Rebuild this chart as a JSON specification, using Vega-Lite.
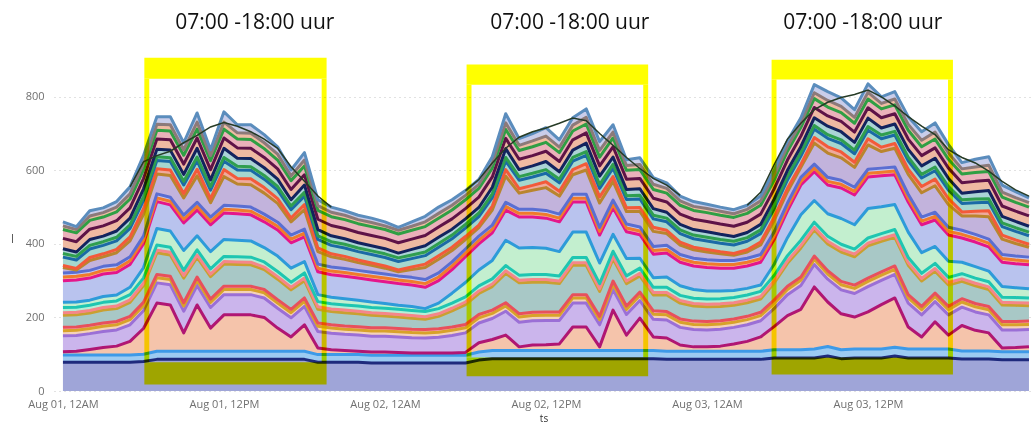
{
"$schema":"https://vega.github.io/schema/vega-lite/v6.json",
"width":979,"height":331,
"autosize":"none",
"padding":{"left":54,"top":60,"right":0,"bottom":32},
"background":"white",
"config":{"view":{"stroke":null},"font":"Open Sans"},
"datasets":{
"d":[
{"t":"08-01 00","k":"a","v":78},{"t":"08-01 00","k":"b","v":20},{"t":"08-01 00","k":"c","v":9},{"t":"08-01 00","k":"d","v":43},{"t":"08-01 00","k":"e","v":14},{"t":"08-01 00","k":"f","v":9},{"t":"08-01 00","k":"g","v":33},{"t":"08-01 00","k":"h","v":7},{"t":"08-01 00","k":"i","v":14},{"t":"08-01 00","k":"j","v":14},{"t":"08-01 00","k":"k","v":59},{"t":"08-01 00","k":"l","v":10},{"t":"08-01 00","k":"m","v":11},{"t":"08-01 00","k":"n","v":15},{"t":"08-01 00","k":"o","v":5},{"t":"08-01 00","k":"p","v":23},{"t":"08-01 00","k":"q","v":10},{"t":"08-01 00","k":"r","v":13},{"t":"08-01 00","k":"s","v":28},{"t":"08-01 00","k":"t","v":24},{"t":"08-01 00","k":"u","v":10},{"t":"08-01 00","k":"v","v":11},
{"t":"08-01 01","k":"a","v":78},{"t":"08-01 01","k":"b","v":20},{"t":"08-01 01","k":"c","v":10},{"t":"08-01 01","k":"d","v":43},{"t":"08-01 01","k":"e","v":14},{"t":"08-01 01","k":"f","v":9},{"t":"08-01 01","k":"g","v":33},{"t":"08-01 01","k":"h","v":7},{"t":"08-01 01","k":"i","v":14},{"t":"08-01 01","k":"j","v":14},{"t":"08-01 01","k":"k","v":60},{"t":"08-01 01","k":"l","v":10},{"t":"08-01 01","k":"m","v":11},{"t":"08-01 01","k":"n","v":6},{"t":"08-01 01","k":"o","v":4},{"t":"08-01 01","k":"p","v":23},{"t":"08-01 01","k":"q","v":10},{"t":"08-01 01","k":"r","v":12},{"t":"08-01 01","k":"s","v":28},{"t":"08-01 01","k":"t","v":24},{"t":"08-01 01","k":"u","v":9},{"t":"08-01 01","k":"v","v":8},
{"t":"08-01 02","k":"a","v":78},{"t":"08-01 02","k":"b","v":20},{"t":"08-01 02","k":"c","v":15},{"t":"08-01 02","k":"d","v":43},{"t":"08-01 02","k":"e","v":14},{"t":"08-01 02","k":"f","v":9},{"t":"08-01 02","k":"g","v":33},{"t":"08-01 02","k":"h","v":7},{"t":"08-01 02","k":"i","v":14},{"t":"08-01 02","k":"j","v":14},{"t":"08-01 02","k":"k","v":60},{"t":"08-01 02","k":"l","v":10},{"t":"08-01 02","k":"m","v":11},{"t":"08-01 02","k":"n","v":27},{"t":"08-01 02","k":"o","v":8},{"t":"08-01 02","k":"p","v":23},{"t":"08-01 02","k":"q","v":10},{"t":"08-01 02","k":"r","v":16},{"t":"08-01 02","k":"s","v":28},{"t":"08-01 02","k":"t","v":24},{"t":"08-01 02","k":"u","v":12},{"t":"08-01 02","k":"v","v":14},
{"t":"08-01 03","k":"a","v":78},{"t":"08-01 03","k":"b","v":20},{"t":"08-01 03","k":"c","v":20},{"t":"08-01 03","k":"d","v":44},{"t":"08-01 03","k":"e","v":14},{"t":"08-01 03","k":"f","v":9},{"t":"08-01 03","k":"g","v":35},{"t":"08-01 03","k":"h","v":7},{"t":"08-01 03","k":"i","v":14},{"t":"08-01 03","k":"j","v":16},{"t":"08-01 03","k":"k","v":61},{"t":"08-01 03","k":"l","v":10},{"t":"08-01 03","k":"m","v":11},{"t":"08-01 03","k":"n","v":26},{"t":"08-01 03","k":"o","v":8},{"t":"08-01 03","k":"p","v":23},{"t":"08-01 03","k":"q","v":10},{"t":"08-01 03","k":"r","v":15},{"t":"08-01 03","k":"s","v":28},{"t":"08-01 03","k":"t","v":24},{"t":"08-01 03","k":"u","v":12},{"t":"08-01 03","k":"v","v":13},
{"t":"08-01 04","k":"a","v":78},{"t":"08-01 04","k":"b","v":20},{"t":"08-01 04","k":"c","v":24},{"t":"08-01 04","k":"d","v":44},{"t":"08-01 04","k":"e","v":14},{"t":"08-01 04","k":"f","v":9},{"t":"08-01 04","k":"g","v":35},{"t":"08-01 04","k":"h","v":7},{"t":"08-01 04","k":"i","v":14},{"t":"08-01 04","k":"j","v":16},{"t":"08-01 04","k":"k","v":61},{"t":"08-01 04","k":"l","v":10},{"t":"08-01 04","k":"m","v":11},{"t":"08-01 04","k":"n","v":33},{"t":"08-01 04","k":"o","v":9},{"t":"08-01 04","k":"p","v":23},{"t":"08-01 04","k":"q","v":10},{"t":"08-01 04","k":"r","v":17},{"t":"08-01 04","k":"s","v":28},{"t":"08-01 04","k":"t","v":24},{"t":"08-01 04","k":"u","v":13},{"t":"08-01 04","k":"v","v":15},
{"t":"08-01 05","k":"a","v":78},{"t":"08-01 05","k":"b","v":20},{"t":"08-01 05","k":"c","v":37},{"t":"08-01 05","k":"d","v":45},{"t":"08-01 05","k":"e","v":14},{"t":"08-01 05","k":"f","v":9},{"t":"08-01 05","k":"g","v":38},{"t":"08-01 05","k":"h","v":7},{"t":"08-01 05","k":"i","v":14},{"t":"08-01 05","k":"j","v":20},{"t":"08-01 05","k":"k","v":62},{"t":"08-01 05","k":"l","v":10},{"t":"08-01 05","k":"m","v":11},{"t":"08-01 05","k":"n","v":43},{"t":"08-01 05","k":"o","v":11},{"t":"08-01 05","k":"p","v":23},{"t":"08-01 05","k":"q","v":10},{"t":"08-01 05","k":"r","v":18},{"t":"08-01 05","k":"s","v":28},{"t":"08-01 05","k":"t","v":24},{"t":"08-01 05","k":"u","v":14},{"t":"08-01 05","k":"v","v":19},
{"t":"08-01 06","k":"a","v":80},{"t":"08-01 06","k":"b","v":20},{"t":"08-01 06","k":"c","v":70},{"t":"08-01 06","k":"d","v":48},{"t":"08-01 06","k":"e","v":14},{"t":"08-01 06","k":"f","v":9},{"t":"08-01 06","k":"g","v":45},{"t":"08-01 06","k":"h","v":7},{"t":"08-01 06","k":"i","v":14},{"t":"08-01 06","k":"j","v":28},{"t":"08-01 06","k":"k","v":65},{"t":"08-01 06","k":"l","v":10},{"t":"08-01 06","k":"m","v":11},{"t":"08-01 06","k":"n","v":59},{"t":"08-01 06","k":"o","v":15},{"t":"08-01 06","k":"p","v":23},{"t":"08-01 06","k":"q","v":10},{"t":"08-01 06","k":"r","v":21},{"t":"08-01 06","k":"s","v":28},{"t":"08-01 06","k":"t","v":24},{"t":"08-01 06","k":"u","v":17},{"t":"08-01 06","k":"v","v":22},
{"t":"08-01 07","k":"a","v":86},{"t":"08-01 07","k":"b","v":22},{"t":"08-01 07","k":"c","v":131},{"t":"08-01 07","k":"d","v":55},{"t":"08-01 07","k":"e","v":14},{"t":"08-01 07","k":"f","v":9},{"t":"08-01 07","k":"g","v":59},{"t":"08-01 07","k":"h","v":7},{"t":"08-01 07","k":"i","v":14},{"t":"08-01 07","k":"j","v":45},{"t":"08-01 07","k":"k","v":73},{"t":"08-01 07","k":"l","v":10},{"t":"08-01 07","k":"m","v":11},{"t":"08-01 07","k":"n","v":54},{"t":"08-01 07","k":"o","v":14},{"t":"08-01 07","k":"p","v":23},{"t":"08-01 07","k":"q","v":10},{"t":"08-01 07","k":"r","v":20},{"t":"08-01 07","k":"s","v":28},{"t":"08-01 07","k":"t","v":24},{"t":"08-01 07","k":"u","v":16},{"t":"08-01 07","k":"v","v":21},
{"t":"08-01 08","k":"a","v":86},{"t":"08-01 08","k":"b","v":22},{"t":"08-01 08","k":"c","v":126},{"t":"08-01 08","k":"d","v":55},{"t":"08-01 08","k":"e","v":14},{"t":"08-01 08","k":"f","v":9},{"t":"08-01 08","k":"g","v":58},{"t":"08-01 08","k":"h","v":7},{"t":"08-01 08","k":"i","v":14},{"t":"08-01 08","k":"j","v":44},{"t":"08-01 08","k":"k","v":71},{"t":"08-01 08","k":"l","v":10},{"t":"08-01 08","k":"m","v":11},{"t":"08-01 08","k":"n","v":59},{"t":"08-01 08","k":"o","v":15},{"t":"08-01 08","k":"p","v":23},{"t":"08-01 08","k":"q","v":10},{"t":"08-01 08","k":"r","v":21},{"t":"08-01 08","k":"s","v":28},{"t":"08-01 08","k":"t","v":24},{"t":"08-01 08","k":"u","v":17},{"t":"08-01 08","k":"v","v":22},
{"t":"08-01 09","k":"a","v":86},{"t":"08-01 09","k":"b","v":22},{"t":"08-01 09","k":"c","v":50},{"t":"08-01 09","k":"d","v":59},{"t":"08-01 09","k":"e","v":14},{"t":"08-01 09","k":"f","v":9},{"t":"08-01 09","k":"g","v":67},{"t":"08-01 09","k":"h","v":7},{"t":"08-01 09","k":"i","v":14},{"t":"08-01 09","k":"j","v":54},{"t":"08-01 09","k":"k","v":75},{"t":"08-01 09","k":"l","v":10},{"t":"08-01 09","k":"m","v":11},{"t":"08-01 09","k":"n","v":47},{"t":"08-01 09","k":"o","v":12},{"t":"08-01 09","k":"p","v":23},{"t":"08-01 09","k":"q","v":10},{"t":"08-01 09","k":"r","v":19},{"t":"08-01 09","k":"s","v":28},{"t":"08-01 09","k":"t","v":24},{"t":"08-01 09","k":"u","v":15},{"t":"08-01 09","k":"v","v":19},
{"t":"08-01 10","k":"a","v":86},{"t":"08-01 10","k":"b","v":22},{"t":"08-01 10","k":"c","v":126},{"t":"08-01 10","k":"d","v":53},{"t":"08-01 10","k":"e","v":14},{"t":"08-01 10","k":"f","v":9},{"t":"08-01 10","k":"g","v":53},{"t":"08-01 10","k":"h","v":7},{"t":"08-01 10","k":"i","v":14},{"t":"08-01 10","k":"j","v":38},{"t":"08-01 10","k":"k","v":70},{"t":"08-01 10","k":"l","v":10},{"t":"08-01 10","k":"m","v":11},{"t":"08-01 10","k":"n","v":72},{"t":"08-01 10","k":"o","v":18},{"t":"08-01 10","k":"p","v":23},{"t":"08-01 10","k":"q","v":10},{"t":"08-01 10","k":"r","v":24},{"t":"08-01 10","k":"s","v":28},{"t":"08-01 10","k":"t","v":24},{"t":"08-01 10","k":"u","v":19},{"t":"08-01 10","k":"v","v":25},
{"t":"08-01 11","k":"a","v":86},{"t":"08-01 11","k":"b","v":22},{"t":"08-01 11","k":"c","v":63},{"t":"08-01 11","k":"d","v":56},{"t":"08-01 11","k":"e","v":14},{"t":"08-01 11","k":"f","v":9},{"t":"08-01 11","k":"g","v":61},{"t":"08-01 11","k":"h","v":7},{"t":"08-01 11","k":"i","v":14},{"t":"08-01 11","k":"j","v":47},{"t":"08-01 11","k":"k","v":73},{"t":"08-01 11","k":"l","v":10},{"t":"08-01 11","k":"m","v":11},{"t":"08-01 11","k":"n","v":39},{"t":"08-01 11","k":"o","v":11},{"t":"08-01 11","k":"p","v":23},{"t":"08-01 11","k":"q","v":10},{"t":"08-01 11","k":"r","v":18},{"t":"08-01 11","k":"s","v":28},{"t":"08-01 11","k":"t","v":24},{"t":"08-01 11","k":"u","v":14},{"t":"08-01 11","k":"v","v":16},
{"t":"08-01 12","k":"a","v":86},{"t":"08-01 12","k":"b","v":22},{"t":"08-01 12","k":"c","v":99},{"t":"08-01 12","k":"d","v":55},{"t":"08-01 12","k":"e","v":14},{"t":"08-01 12","k":"f","v":9},{"t":"08-01 12","k":"g","v":60},{"t":"08-01 12","k":"h","v":7},{"t":"08-01 12","k":"i","v":14},{"t":"08-01 12","k":"j","v":46},{"t":"08-01 12","k":"k","v":72},{"t":"08-01 12","k":"l","v":10},{"t":"08-01 12","k":"m","v":11},{"t":"08-01 12","k":"n","v":78},{"t":"08-01 12","k":"o","v":19},{"t":"08-01 12","k":"p","v":23},{"t":"08-01 12","k":"q","v":10},{"t":"08-01 12","k":"r","v":25},{"t":"08-01 12","k":"s","v":28},{"t":"08-01 12","k":"t","v":24},{"t":"08-01 12","k":"u","v":19},{"t":"08-01 12","k":"v","v":28},
{"t":"08-01 13","k":"a","v":86},{"t":"08-01 13","k":"b","v":22},{"t":"08-01 13","k":"c","v":99},{"t":"08-01 13","k":"d","v":55},{"t":"08-01 13","k":"e","v":14},{"t":"08-01 13","k":"f","v":9},{"t":"08-01 13","k":"g","v":59},{"t":"08-01 13","k":"h","v":7},{"t":"08-01 13","k":"i","v":14},{"t":"08-01 13","k":"j","v":45},{"t":"08-01 13","k":"k","v":72},{"t":"08-01 13","k":"l","v":10},{"t":"08-01 13","k":"m","v":11},{"t":"08-01 13","k":"n","v":60},{"t":"08-01 13","k":"o","v":15},{"t":"08-01 13","k":"p","v":23},{"t":"08-01 13","k":"q","v":10},{"t":"08-01 13","k":"r","v":22},{"t":"08-01 13","k":"s","v":28},{"t":"08-01 13","k":"t","v":24},{"t":"08-01 13","k":"u","v":17},{"t":"08-01 13","k":"v","v":22},
{"t":"08-01 14","k":"a","v":86},{"t":"08-01 14","k":"b","v":22},{"t":"08-01 14","k":"c","v":99},{"t":"08-01 14","k":"d","v":55},{"t":"08-01 14","k":"e","v":14},{"t":"08-01 14","k":"f","v":9},{"t":"08-01 14","k":"g","v":58},{"t":"08-01 14","k":"h","v":7},{"t":"08-01 14","k":"i","v":14},{"t":"08-01 14","k":"j","v":44},{"t":"08-01 14","k":"k","v":71},{"t":"08-01 14","k":"l","v":10},{"t":"08-01 14","k":"m","v":11},{"t":"08-01 14","k":"n","v":61},{"t":"08-01 14","k":"o","v":16},{"t":"08-01 14","k":"p","v":23},{"t":"08-01 14","k":"q","v":10},{"t":"08-01 14","k":"r","v":22},{"t":"08-01 14","k":"s","v":28},{"t":"08-01 14","k":"t","v":24},{"t":"08-01 14","k":"u","v":17},{"t":"08-01 14","k":"v","v":23},
{"t":"08-01 15","k":"a","v":86},{"t":"08-01 15","k":"b","v":22},{"t":"08-01 15","k":"c","v":92},{"t":"08-01 15","k":"d","v":53},{"t":"08-01 15","k":"e","v":14},{"t":"08-01 15","k":"f","v":9},{"t":"08-01 15","k":"g","v":54},{"t":"08-01 15","k":"h","v":7},{"t":"08-01 15","k":"i","v":14},{"t":"08-01 15","k":"j","v":39},{"t":"08-01 15","k":"k","v":70},{"t":"08-01 15","k":"l","v":10},{"t":"08-01 15","k":"m","v":11},{"t":"08-01 15","k":"n","v":57},{"t":"08-01 15","k":"o","v":15},{"t":"08-01 15","k":"p","v":23},{"t":"08-01 15","k":"q","v":10},{"t":"08-01 15","k":"r","v":21},{"t":"08-01 15","k":"s","v":28},{"t":"08-01 15","k":"t","v":24},{"t":"08-01 15","k":"u","v":16},{"t":"08-01 15","k":"v","v":22},
{"t":"08-01 16","k":"a","v":86},{"t":"08-01 16","k":"b","v":22},{"t":"08-01 16","k":"c","v":63},{"t":"08-01 16","k":"d","v":54},{"t":"08-01 16","k":"e","v":14},{"t":"08-01 16","k":"f","v":9},{"t":"08-01 16","k":"g","v":56},{"t":"08-01 16","k":"h","v":7},{"t":"08-01 16","k":"i","v":14},{"t":"08-01 16","k":"j","v":42},{"t":"08-01 16","k":"k","v":71},{"t":"08-01 16","k":"l","v":10},{"t":"08-01 16","k":"m","v":11},{"t":"08-01 16","k":"n","v":51},{"t":"08-01 16","k":"o","v":13},{"t":"08-01 16","k":"p","v":23},{"t":"08-01 16","k":"q","v":10},{"t":"08-01 16","k":"r","v":20},{"t":"08-01 16","k":"s","v":28},{"t":"08-01 16","k":"t","v":24},{"t":"08-01 16","k":"u","v":16},{"t":"08-01 16","k":"v","v":20},
{"t":"08-01 17","k":"a","v":86},{"t":"08-01 17","k":"b","v":22},{"t":"08-01 17","k":"c","v":39},{"t":"08-01 17","k":"d","v":52},{"t":"08-01 17","k":"e","v":14},{"t":"08-01 17","k":"f","v":9},{"t":"08-01 17","k":"g","v":53},{"t":"08-01 17","k":"h","v":7},{"t":"08-01 17","k":"i","v":14},{"t":"08-01 17","k":"j","v":38},{"t":"08-01 17","k":"k","v":69},{"t":"08-01 17","k":"l","v":10},{"t":"08-01 17","k":"m","v":11},{"t":"08-01 17","k":"n","v":36},{"t":"08-01 17","k":"o","v":10},{"t":"08-01 17","k":"p","v":23},{"t":"08-01 17","k":"q","v":10},{"t":"08-01 17","k":"r","v":17},{"t":"08-01 17","k":"s","v":28},{"t":"08-01 17","k":"t","v":24},{"t":"08-01 17","k":"u","v":13},{"t":"08-01 17","k":"v","v":16},
{"t":"08-01 18","k":"a","v":86},{"t":"08-01 18","k":"b","v":22},{"t":"08-01 18","k":"c","v":72},{"t":"08-01 18","k":"d","v":50},{"t":"08-01 18","k":"e","v":14},{"t":"08-01 18","k":"f","v":9},{"t":"08-01 18","k":"g","v":47},{"t":"08-01 18","k":"h","v":7},{"t":"08-01 18","k":"i","v":14},{"t":"08-01 18","k":"j","v":31},{"t":"08-01 18","k":"k","v":67},{"t":"08-01 18","k":"l","v":10},{"t":"08-01 18","k":"m","v":11},{"t":"08-01 18","k":"n","v":53},{"t":"08-01 18","k":"o","v":14},{"t":"08-01 18","k":"p","v":23},{"t":"08-01 18","k":"q","v":10},{"t":"08-01 18","k":"r","v":20},{"t":"08-01 18","k":"s","v":28},{"t":"08-01 18","k":"t","v":24},{"t":"08-01 18","k":"u","v":16},{"t":"08-01 18","k":"v","v":20},
{"t":"08-01 19","k":"a","v":78},{"t":"08-01 19","k":"b","v":21},{"t":"08-01 19","k":"c","v":18},{"t":"08-01 19","k":"d","v":45},{"t":"08-01 19","k":"e","v":14},{"t":"08-01 19","k":"f","v":9},{"t":"08-01 19","k":"g","v":37},{"t":"08-01 19","k":"h","v":7},{"t":"08-01 19","k":"i","v":14},{"t":"08-01 19","k":"j","v":19},{"t":"08-01 19","k":"k","v":62},{"t":"08-01 19","k":"l","v":10},{"t":"08-01 19","k":"m","v":11},{"t":"08-01 19","k":"n","v":34},{"t":"08-01 19","k":"o","v":10},{"t":"08-01 19","k":"p","v":23},{"t":"08-01 19","k":"q","v":10},{"t":"08-01 19","k":"r","v":17},{"t":"08-01 19","k":"s","v":28},{"t":"08-01 19","k":"t","v":24},{"t":"08-01 19","k":"u","v":13},{"t":"08-01 19","k":"v","v":16},
{"t":"08-01 20","k":"a","v":78},{"t":"08-01 20","k":"b","v":21},{"t":"08-01 20","k":"c","v":13},{"t":"08-01 20","k":"d","v":45},{"t":"08-01 20","k":"e","v":14},{"t":"08-01 20","k":"f","v":9},{"t":"08-01 20","k":"g","v":36},{"t":"08-01 20","k":"h","v":7},{"t":"08-01 20","k":"i","v":14},{"t":"08-01 20","k":"j","v":18},{"t":"08-01 20","k":"k","v":61},{"t":"08-01 20","k":"l","v":10},{"t":"08-01 20","k":"m","v":11},{"t":"08-01 20","k":"n","v":28},{"t":"08-01 20","k":"o","v":8},{"t":"08-01 20","k":"p","v":23},{"t":"08-01 20","k":"q","v":10},{"t":"08-01 20","k":"r","v":16},{"t":"08-01 20","k":"s","v":28},{"t":"08-01 20","k":"t","v":24},{"t":"08-01 20","k":"u","v":12},{"t":"08-01 20","k":"v","v":14},
{"t":"08-01 21","k":"a","v":78},{"t":"08-01 21","k":"b","v":21},{"t":"08-01 21","k":"c","v":11},{"t":"08-01 21","k":"d","v":44},{"t":"08-01 21","k":"e","v":14},{"t":"08-01 21","k":"f","v":9},{"t":"08-01 21","k":"g","v":36},{"t":"08-01 21","k":"h","v":7},{"t":"08-01 21","k":"i","v":14},{"t":"08-01 21","k":"j","v":17},{"t":"08-01 21","k":"k","v":61},{"t":"08-01 21","k":"l","v":10},{"t":"08-01 21","k":"m","v":11},{"t":"08-01 21","k":"n","v":25},{"t":"08-01 21","k":"o","v":8},{"t":"08-01 21","k":"p","v":23},{"t":"08-01 21","k":"q","v":10},{"t":"08-01 21","k":"r","v":15},{"t":"08-01 21","k":"s","v":28},{"t":"08-01 21","k":"t","v":24},{"t":"08-01 21","k":"u","v":12},{"t":"08-01 21","k":"v","v":12},
{"t":"08-01 22","k":"a","v":78},{"t":"08-01 22","k":"b","v":21},{"t":"08-01 22","k":"c","v":9},{"t":"08-01 22","k":"d","v":44},{"t":"08-01 22","k":"e","v":14},{"t":"08-01 22","k":"f","v":9},{"t":"08-01 22","k":"g","v":35},{"t":"08-01 22","k":"h","v":7},{"t":"08-01 22","k":"i","v":14},{"t":"08-01 22","k":"j","v":16},{"t":"08-01 22","k":"k","v":60},{"t":"08-01 22","k":"l","v":10},{"t":"08-01 22","k":"m","v":11},{"t":"08-01 22","k":"n","v":21},{"t":"08-01 22","k":"o","v":7},{"t":"08-01 22","k":"p","v":23},{"t":"08-01 22","k":"q","v":10},{"t":"08-01 22","k":"r","v":14},{"t":"08-01 22","k":"s","v":28},{"t":"08-01 22","k":"t","v":24},{"t":"08-01 22","k":"u","v":11},{"t":"08-01 22","k":"v","v":12},
{"t":"08-01 23","k":"a","v":76},{"t":"08-01 23","k":"b","v":21},{"t":"08-01 23","k":"c","v":9},{"t":"08-01 23","k":"d","v":43},{"t":"08-01 23","k":"e","v":14},{"t":"08-01 23","k":"f","v":9},{"t":"08-01 23","k":"g","v":34},{"t":"08-01 23","k":"h","v":7},{"t":"08-01 23","k":"i","v":14},{"t":"08-01 23","k":"j","v":15},{"t":"08-01 23","k":"k","v":60},{"t":"08-01 23","k":"l","v":10},{"t":"08-01 23","k":"m","v":11},{"t":"08-01 23","k":"n","v":19},{"t":"08-01 23","k":"o","v":6},{"t":"08-01 23","k":"p","v":23},{"t":"08-01 23","k":"q","v":10},{"t":"08-01 23","k":"r","v":14},{"t":"08-01 23","k":"s","v":28},{"t":"08-01 23","k":"t","v":24},{"t":"08-01 23","k":"u","v":11},{"t":"08-01 23","k":"v","v":12},
{"t":"08-02 00","k":"a","v":76},{"t":"08-02 00","k":"b","v":21},{"t":"08-02 00","k":"c","v":9},{"t":"08-02 00","k":"d","v":43},{"t":"08-02 00","k":"e","v":14},{"t":"08-02 00","k":"f","v":9},{"t":"08-02 00","k":"g","v":32},{"t":"08-02 00","k":"h","v":7},{"t":"08-02 00","k":"i","v":14},{"t":"08-02 00","k":"j","v":13},{"t":"08-02 00","k":"k","v":59},{"t":"08-02 00","k":"l","v":10},{"t":"08-02 00","k":"m","v":11},{"t":"08-02 00","k":"n","v":16},{"t":"08-02 00","k":"o","v":6},{"t":"08-02 00","k":"p","v":23},{"t":"08-02 00","k":"q","v":10},{"t":"08-02 00","k":"r","v":14},{"t":"08-02 00","k":"s","v":28},{"t":"08-02 00","k":"t","v":24},{"t":"08-02 00","k":"u","v":10},{"t":"08-02 00","k":"v","v":11},
{"t":"08-02 01","k":"a","v":76},{"t":"08-02 01","k":"b","v":21},{"t":"08-02 01","k":"c","v":8},{"t":"08-02 01","k":"d","v":42},{"t":"08-02 01","k":"e","v":14},{"t":"08-02 01","k":"f","v":9},{"t":"08-02 01","k":"g","v":31},{"t":"08-02 01","k":"h","v":7},{"t":"08-02 01","k":"i","v":14},{"t":"08-02 01","k":"j","v":11},{"t":"08-02 01","k":"k","v":59},{"t":"08-02 01","k":"l","v":10},{"t":"08-02 01","k":"m","v":11},{"t":"08-02 01","k":"n","v":11},{"t":"08-02 01","k":"o","v":5},{"t":"08-02 01","k":"p","v":23},{"t":"08-02 01","k":"q","v":10},{"t":"08-02 01","k":"r","v":13},{"t":"08-02 01","k":"s","v":28},{"t":"08-02 01","k":"t","v":24},{"t":"08-02 01","k":"u","v":10},{"t":"08-02 01","k":"v","v":8},
{"t":"08-02 02","k":"a","v":76},{"t":"08-02 02","k":"b","v":21},{"t":"08-02 02","k":"c","v":6},{"t":"08-02 02","k":"d","v":42},{"t":"08-02 02","k":"e","v":14},{"t":"08-02 02","k":"f","v":9},{"t":"08-02 02","k":"g","v":30},{"t":"08-02 02","k":"h","v":7},{"t":"08-02 02","k":"i","v":14},{"t":"08-02 02","k":"j","v":11},{"t":"08-02 02","k":"k","v":58},{"t":"08-02 02","k":"l","v":10},{"t":"08-02 02","k":"m","v":11},{"t":"08-02 02","k":"n","v":21},{"t":"08-02 02","k":"o","v":7},{"t":"08-02 02","k":"p","v":23},{"t":"08-02 02","k":"q","v":10},{"t":"08-02 02","k":"r","v":15},{"t":"08-02 02","k":"s","v":28},{"t":"08-02 02","k":"t","v":24},{"t":"08-02 02","k":"u","v":11},{"t":"08-02 02","k":"v","v":12},
{"t":"08-02 03","k":"a","v":76},{"t":"08-02 03","k":"b","v":21},{"t":"08-02 03","k":"c","v":6},{"t":"08-02 03","k":"d","v":41},{"t":"08-02 03","k":"e","v":14},{"t":"08-02 03","k":"f","v":9},{"t":"08-02 03","k":"g","v":28},{"t":"08-02 03","k":"h","v":7},{"t":"08-02 03","k":"i","v":14},{"t":"08-02 03","k":"j","v":8},{"t":"08-02 03","k":"k","v":58},{"t":"08-02 03","k":"l","v":10},{"t":"08-02 03","k":"m","v":11},{"t":"08-02 03","k":"n","v":33},{"t":"08-02 03","k":"o","v":9},{"t":"08-02 03","k":"p","v":23},{"t":"08-02 03","k":"q","v":10},{"t":"08-02 03","k":"r","v":17},{"t":"08-02 03","k":"s","v":28},{"t":"08-02 03","k":"t","v":24},{"t":"08-02 03","k":"u","v":13},{"t":"08-02 03","k":"v","v":15},
{"t":"08-02 04","k":"a","v":76},{"t":"08-02 04","k":"b","v":21},{"t":"08-02 04","k":"c","v":6},{"t":"08-02 04","k":"d","v":43},{"t":"08-02 04","k":"e","v":14},{"t":"08-02 04","k":"f","v":9},{"t":"08-02 04","k":"g","v":34},{"t":"08-02 04","k":"h","v":7},{"t":"08-02 04","k":"i","v":14},{"t":"08-02 04","k":"j","v":15},{"t":"08-02 04","k":"k","v":61},{"t":"08-02 04","k":"l","v":10},{"t":"08-02 04","k":"m","v":11},{"t":"08-02 04","k":"n","v":37},{"t":"08-02 04","k":"o","v":10},{"t":"08-02 04","k":"p","v":23},{"t":"08-02 04","k":"q","v":10},{"t":"08-02 04","k":"r","v":17},{"t":"08-02 04","k":"s","v":28},{"t":"08-02 04","k":"t","v":24},{"t":"08-02 04","k":"u","v":13},{"t":"08-02 04","k":"v","v":17},
{"t":"08-02 05","k":"a","v":76},{"t":"08-02 05","k":"b","v":21},{"t":"08-02 05","k":"c","v":6},{"t":"08-02 05","k":"d","v":48},{"t":"08-02 05","k":"e","v":14},{"t":"08-02 05","k":"f","v":9},{"t":"08-02 05","k":"g","v":44},{"t":"08-02 05","k":"h","v":7},{"t":"08-02 05","k":"i","v":14},{"t":"08-02 05","k":"j","v":27},{"t":"08-02 05","k":"k","v":64},{"t":"08-02 05","k":"l","v":10},{"t":"08-02 05","k":"m","v":11},{"t":"08-02 05","k":"n","v":31},{"t":"08-02 05","k":"o","v":9},{"t":"08-02 05","k":"p","v":23},{"t":"08-02 05","k":"q","v":10},{"t":"08-02 05","k":"r","v":16},{"t":"08-02 05","k":"s","v":28},{"t":"08-02 05","k":"t","v":24},{"t":"08-02 05","k":"u","v":13},{"t":"08-02 05","k":"v","v":15},
{"t":"08-02 06","k":"a","v":76},{"t":"08-02 06","k":"b","v":21},{"t":"08-02 06","k":"c","v":8},{"t":"08-02 06","k":"d","v":53},{"t":"08-02 06","k":"e","v":14},{"t":"08-02 06","k":"f","v":9},{"t":"08-02 06","k":"g","v":54},{"t":"08-02 06","k":"h","v":7},{"t":"08-02 06","k":"i","v":14},{"t":"08-02 06","k":"j","v":39},{"t":"08-02 06","k":"k","v":70},{"t":"08-02 06","k":"l","v":10},{"t":"08-02 06","k":"m","v":11},{"t":"08-02 06","k":"n","v":26},{"t":"08-02 06","k":"o","v":8},{"t":"08-02 06","k":"p","v":23},{"t":"08-02 06","k":"q","v":10},{"t":"08-02 06","k":"r","v":15},{"t":"08-02 06","k":"s","v":28},{"t":"08-02 06","k":"t","v":24},{"t":"08-02 06","k":"u","v":12},{"t":"08-02 06","k":"v","v":13},
{"t":"08-02 07","k":"a","v":84},{"t":"08-02 07","k":"b","v":22},{"t":"08-02 07","k":"c","v":25},{"t":"08-02 07","k":"d","v":54},{"t":"08-02 07","k":"e","v":14},{"t":"08-02 07","k":"f","v":9},{"t":"08-02 07","k":"g","v":57},{"t":"08-02 07","k":"h","v":7},{"t":"08-02 07","k":"i","v":14},{"t":"08-02 07","k":"j","v":43},{"t":"08-02 07","k":"k","v":71},{"t":"08-02 07","k":"l","v":10},{"t":"08-02 07","k":"m","v":11},{"t":"08-02 07","k":"n","v":23},{"t":"08-02 07","k":"o","v":7},{"t":"08-02 07","k":"p","v":23},{"t":"08-02 07","k":"q","v":10},{"t":"08-02 07","k":"r","v":15},{"t":"08-02 07","k":"s","v":28},{"t":"08-02 07","k":"t","v":24},{"t":"08-02 07","k":"u","v":11},{"t":"08-02 07","k":"v","v":13},
{"t":"08-02 08","k":"a","v":88},{"t":"08-02 08","k":"b","v":22},{"t":"08-02 08","k":"c","v":30},{"t":"08-02 08","k":"d","v":57},{"t":"08-02 08","k":"e","v":14},{"t":"08-02 08","k":"f","v":9},{"t":"08-02 08","k":"g","v":64},{"t":"08-02 08","k":"h","v":7},{"t":"08-02 08","k":"i","v":14},{"t":"08-02 08","k":"j","v":50},{"t":"08-02 08","k":"k","v":75},{"t":"08-02 08","k":"l","v":10},{"t":"08-02 08","k":"m","v":11},{"t":"08-02 08","k":"n","v":41},{"t":"08-02 08","k":"o","v":11},{"t":"08-02 08","k":"p","v":23},{"t":"08-02 08","k":"q","v":10},{"t":"08-02 08","k":"r","v":18},{"t":"08-02 08","k":"s","v":28},{"t":"08-02 08","k":"t","v":24},{"t":"08-02 08","k":"u","v":14},{"t":"08-02 08","k":"v","v":17},
{"t":"08-02 09","k":"a","v":88},{"t":"08-02 09","k":"b","v":22},{"t":"08-02 09","k":"c","v":42},{"t":"08-02 09","k":"d","v":65},{"t":"08-02 09","k":"e","v":14},{"t":"08-02 09","k":"f","v":9},{"t":"08-02 09","k":"g","v":80},{"t":"08-02 09","k":"h","v":7},{"t":"08-02 09","k":"i","v":14},{"t":"08-02 09","k":"j","v":69},{"t":"08-02 09","k":"k","v":82},{"t":"08-02 09","k":"l","v":10},{"t":"08-02 09","k":"m","v":11},{"t":"08-02 09","k":"n","v":71},{"t":"08-02 09","k":"o","v":18},{"t":"08-02 09","k":"p","v":23},{"t":"08-02 09","k":"q","v":10},{"t":"08-02 09","k":"r","v":24},{"t":"08-02 09","k":"s","v":28},{"t":"08-02 09","k":"t","v":24},{"t":"08-02 09","k":"u","v":18},{"t":"08-02 09","k":"v","v":25},
{"t":"08-02 10","k":"a","v":88},{"t":"08-02 10","k":"b","v":22},{"t":"08-02 10","k":"c","v":10},{"t":"08-02 10","k":"d","v":67},{"t":"08-02 10","k":"e","v":14},{"t":"08-02 10","k":"f","v":9},{"t":"08-02 10","k":"g","v":84},{"t":"08-02 10","k":"h","v":7},{"t":"08-02 10","k":"i","v":14},{"t":"08-02 10","k":"j","v":74},{"t":"08-02 10","k":"k","v":84},{"t":"08-02 10","k":"l","v":10},{"t":"08-02 10","k":"m","v":11},{"t":"08-02 10","k":"n","v":44},{"t":"08-02 10","k":"o","v":12},{"t":"08-02 10","k":"p","v":23},{"t":"08-02 10","k":"q","v":10},{"t":"08-02 10","k":"r","v":19},{"t":"08-02 10","k":"s","v":28},{"t":"08-02 10","k":"t","v":24},{"t":"08-02 10","k":"u","v":14},{"t":"08-02 10","k":"v","v":18},
{"t":"08-02 11","k":"a","v":88},{"t":"08-02 11","k":"b","v":22},{"t":"08-02 11","k":"c","v":15},{"t":"08-02 11","k":"d","v":66},{"t":"08-02 11","k":"e","v":14},{"t":"08-02 11","k":"f","v":9},{"t":"08-02 11","k":"g","v":82},{"t":"08-02 11","k":"h","v":7},{"t":"08-02 11","k":"i","v":14},{"t":"08-02 11","k":"j","v":73},{"t":"08-02 11","k":"k","v":83},{"t":"08-02 11","k":"l","v":10},{"t":"08-02 11","k":"m","v":11},{"t":"08-02 11","k":"n","v":52},{"t":"08-02 11","k":"o","v":13},{"t":"08-02 11","k":"p","v":23},{"t":"08-02 11","k":"q","v":10},{"t":"08-02 11","k":"r","v":20},{"t":"08-02 11","k":"s","v":28},{"t":"08-02 11","k":"t","v":24},{"t":"08-02 11","k":"u","v":16},{"t":"08-02 11","k":"v","v":20},
{"t":"08-02 12","k":"a","v":88},{"t":"08-02 12","k":"b","v":22},{"t":"08-02 12","k":"c","v":16},{"t":"08-02 12","k":"d","v":66},{"t":"08-02 12","k":"e","v":14},{"t":"08-02 12","k":"f","v":9},{"t":"08-02 12","k":"g","v":81},{"t":"08-02 12","k":"h","v":7},{"t":"08-02 12","k":"i","v":14},{"t":"08-02 12","k":"j","v":71},{"t":"08-02 12","k":"k","v":82},{"t":"08-02 12","k":"l","v":10},{"t":"08-02 12","k":"m","v":11},{"t":"08-02 12","k":"n","v":62},{"t":"08-02 12","k":"o","v":16},{"t":"08-02 12","k":"p","v":23},{"t":"08-02 12","k":"q","v":10},{"t":"08-02 12","k":"r","v":22},{"t":"08-02 12","k":"s","v":28},{"t":"08-02 12","k":"t","v":24},{"t":"08-02 12","k":"u","v":17},{"t":"08-02 12","k":"v","v":23},
{"t":"08-02 13","k":"a","v":88},{"t":"08-02 13","k":"b","v":22},{"t":"08-02 13","k":"c","v":18},{"t":"08-02 13","k":"d","v":64},{"t":"08-02 13","k":"e","v":14},{"t":"08-02 13","k":"f","v":9},{"t":"08-02 13","k":"g","v":77},{"t":"08-02 13","k":"h","v":7},{"t":"08-02 13","k":"i","v":14},{"t":"08-02 13","k":"j","v":66},{"t":"08-02 13","k":"k","v":81},{"t":"08-02 13","k":"l","v":10},{"t":"08-02 13","k":"m","v":11},{"t":"08-02 13","k":"n","v":49},{"t":"08-02 13","k":"o","v":13},{"t":"08-02 13","k":"p","v":23},{"t":"08-02 13","k":"q","v":10},{"t":"08-02 13","k":"r","v":20},{"t":"08-02 13","k":"s","v":28},{"t":"08-02 13","k":"t","v":24},{"t":"08-02 13","k":"u","v":15},{"t":"08-02 13","k":"v","v":20},
{"t":"08-02 14","k":"a","v":88},{"t":"08-02 14","k":"b","v":22},{"t":"08-02 14","k":"c","v":64},{"t":"08-02 14","k":"d","v":65},{"t":"08-02 14","k":"e","v":14},{"t":"08-02 14","k":"f","v":9},{"t":"08-02 14","k":"g","v":80},{"t":"08-02 14","k":"h","v":7},{"t":"08-02 14","k":"i","v":14},{"t":"08-02 14","k":"j","v":69},{"t":"08-02 14","k":"k","v":82},{"t":"08-02 14","k":"l","v":10},{"t":"08-02 14","k":"m","v":11},{"t":"08-02 14","k":"n","v":53},{"t":"08-02 14","k":"o","v":14},{"t":"08-02 14","k":"p","v":23},{"t":"08-02 14","k":"q","v":10},{"t":"08-02 14","k":"r","v":20},{"t":"08-02 14","k":"s","v":28},{"t":"08-02 14","k":"t","v":24},{"t":"08-02 14","k":"u","v":16},{"t":"08-02 14","k":"v","v":20},
{"t":"08-02 15","k":"a","v":88},{"t":"08-02 15","k":"b","v":22},{"t":"08-02 15","k":"c","v":64},{"t":"08-02 15","k":"d","v":65},{"t":"08-02 15","k":"e","v":14},{"t":"08-02 15","k":"f","v":9},{"t":"08-02 15","k":"g","v":80},{"t":"08-02 15","k":"h","v":7},{"t":"08-02 15","k":"i","v":14},{"t":"08-02 15","k":"j","v":69},{"t":"08-02 15","k":"k","v":82},{"t":"08-02 15","k":"l","v":10},{"t":"08-02 15","k":"m","v":11},{"t":"08-02 15","k":"n","v":66},{"t":"08-02 15","k":"o","v":17},{"t":"08-02 15","k":"p","v":23},{"t":"08-02 15","k":"q","v":10},{"t":"08-02 15","k":"r","v":23},{"t":"08-02 15","k":"s","v":28},{"t":"08-02 15","k":"t","v":24},{"t":"08-02 15","k":"u","v":18},{"t":"08-02 15","k":"v","v":23},
{"t":"08-02 16","k":"a","v":88},{"t":"08-02 16","k":"b","v":22},{"t":"08-02 16","k":"c","v":10},{"t":"08-02 16","k":"d","v":60},{"t":"08-02 16","k":"e","v":14},{"t":"08-02 16","k":"f","v":9},{"t":"08-02 16","k":"g","v":68},{"t":"08-02 16","k":"h","v":7},{"t":"08-02 16","k":"i","v":14},{"t":"08-02 16","k":"j","v":56},{"t":"08-02 16","k":"k","v":76},{"t":"08-02 16","k":"l","v":10},{"t":"08-02 16","k":"m","v":11},{"t":"08-02 16","k":"n","v":66},{"t":"08-02 16","k":"o","v":17},{"t":"08-02 16","k":"p","v":23},{"t":"08-02 16","k":"q","v":10},{"t":"08-02 16","k":"r","v":23},{"t":"08-02 16","k":"s","v":28},{"t":"08-02 16","k":"t","v":24},{"t":"08-02 16","k":"u","v":18},{"t":"08-02 16","k":"v","v":24},
{"t":"08-02 17","k":"a","v":88},{"t":"08-02 17","k":"b","v":22},{"t":"08-02 17","k":"c","v":110},{"t":"08-02 17","k":"d","v":56},{"t":"08-02 17","k":"e","v":14},{"t":"08-02 17","k":"f","v":9},{"t":"08-02 17","k":"g","v":60},{"t":"08-02 17","k":"h","v":7},{"t":"08-02 17","k":"i","v":14},{"t":"08-02 17","k":"j","v":46},{"t":"08-02 17","k":"k","v":72},{"t":"08-02 17","k":"l","v":10},{"t":"08-02 17","k":"m","v":11},{"t":"08-02 17","k":"n","v":51},{"t":"08-02 17","k":"o","v":13},{"t":"08-02 17","k":"p","v":23},{"t":"08-02 17","k":"q","v":10},{"t":"08-02 17","k":"r","v":20},{"t":"08-02 17","k":"s","v":28},{"t":"08-02 17","k":"t","v":24},{"t":"08-02 17","k":"u","v":16},{"t":"08-02 17","k":"v","v":20},
{"t":"08-02 18","k":"a","v":88},{"t":"08-02 18","k":"b","v":22},{"t":"08-02 18","k":"c","v":42},{"t":"08-02 18","k":"d","v":56},{"t":"08-02 18","k":"e","v":14},{"t":"08-02 18","k":"f","v":9},{"t":"08-02 18","k":"g","v":61},{"t":"08-02 18","k":"h","v":7},{"t":"08-02 18","k":"i","v":14},{"t":"08-02 18","k":"j","v":47},{"t":"08-02 18","k":"k","v":73},{"t":"08-02 18","k":"l","v":10},{"t":"08-02 18","k":"m","v":11},{"t":"08-02 18","k":"n","v":34},{"t":"08-02 18","k":"o","v":10},{"t":"08-02 18","k":"p","v":23},{"t":"08-02 18","k":"q","v":10},{"t":"08-02 18","k":"r","v":17},{"t":"08-02 18","k":"s","v":28},{"t":"08-02 18","k":"t","v":24},{"t":"08-02 18","k":"u","v":13},{"t":"08-02 18","k":"v","v":16},
{"t":"08-02 19","k":"a","v":88},{"t":"08-02 19","k":"b","v":22},{"t":"08-02 19","k":"c","v":88},{"t":"08-02 19","k":"d","v":48},{"t":"08-02 19","k":"e","v":14},{"t":"08-02 19","k":"f","v":9},{"t":"08-02 19","k":"g","v":44},{"t":"08-02 19","k":"h","v":7},{"t":"08-02 19","k":"i","v":14},{"t":"08-02 19","k":"j","v":27},{"t":"08-02 19","k":"k","v":64},{"t":"08-02 19","k":"l","v":10},{"t":"08-02 19","k":"m","v":11},{"t":"08-02 19","k":"n","v":42},{"t":"08-02 19","k":"o","v":11},{"t":"08-02 19","k":"p","v":23},{"t":"08-02 19","k":"q","v":10},{"t":"08-02 19","k":"r","v":18},{"t":"08-02 19","k":"s","v":28},{"t":"08-02 19","k":"t","v":24},{"t":"08-02 19","k":"u","v":14},{"t":"08-02 19","k":"v","v":18},
{"t":"08-02 20","k":"a","v":88},{"t":"08-02 20","k":"b","v":22},{"t":"08-02 20","k":"c","v":37},{"t":"08-02 20","k":"d","v":48},{"t":"08-02 20","k":"e","v":14},{"t":"08-02 20","k":"f","v":9},{"t":"08-02 20","k":"g","v":43},{"t":"08-02 20","k":"h","v":7},{"t":"08-02 20","k":"i","v":14},{"t":"08-02 20","k":"j","v":26},{"t":"08-02 20","k":"k","v":64},{"t":"08-02 20","k":"l","v":10},{"t":"08-02 20","k":"m","v":11},{"t":"08-02 20","k":"n","v":41},{"t":"08-02 20","k":"o","v":11},{"t":"08-02 20","k":"p","v":23},{"t":"08-02 20","k":"q","v":10},{"t":"08-02 20","k":"r","v":18},{"t":"08-02 20","k":"s","v":28},{"t":"08-02 20","k":"t","v":24},{"t":"08-02 20","k":"u","v":14},{"t":"08-02 20","k":"v","v":18},
{"t":"08-02 21","k":"a","v":86},{"t":"08-02 21","k":"b","v":22},{"t":"08-02 21","k":"c","v":36},{"t":"08-02 21","k":"d","v":49},{"t":"08-02 21","k":"e","v":14},{"t":"08-02 21","k":"f","v":9},{"t":"08-02 21","k":"g","v":45},{"t":"08-02 21","k":"h","v":7},{"t":"08-02 21","k":"i","v":14},{"t":"08-02 21","k":"j","v":28},{"t":"08-02 21","k":"k","v":65},{"t":"08-02 21","k":"l","v":10},{"t":"08-02 21","k":"m","v":11},{"t":"08-02 21","k":"n","v":32},{"t":"08-02 21","k":"o","v":9},{"t":"08-02 21","k":"p","v":23},{"t":"08-02 21","k":"q","v":10},{"t":"08-02 21","k":"r","v":16},{"t":"08-02 21","k":"s","v":28},{"t":"08-02 21","k":"t","v":24},{"t":"08-02 21","k":"u","v":13},{"t":"08-02 21","k":"v","v":15},
{"t":"08-02 22","k":"a","v":86},{"t":"08-02 22","k":"b","v":22},{"t":"08-02 22","k":"c","v":17},{"t":"08-02 22","k":"d","v":48},{"t":"08-02 22","k":"e","v":14},{"t":"08-02 22","k":"f","v":9},{"t":"08-02 22","k":"g","v":43},{"t":"08-02 22","k":"h","v":7},{"t":"08-02 22","k":"i","v":14},{"t":"08-02 22","k":"j","v":26},{"t":"08-02 22","k":"k","v":64},{"t":"08-02 22","k":"l","v":10},{"t":"08-02 22","k":"m","v":11},{"t":"08-02 22","k":"n","v":26},{"t":"08-02 22","k":"o","v":8},{"t":"08-02 22","k":"p","v":23},{"t":"08-02 22","k":"q","v":10},{"t":"08-02 22","k":"r","v":15},{"t":"08-02 22","k":"s","v":28},{"t":"08-02 22","k":"t","v":24},{"t":"08-02 22","k":"u","v":12},{"t":"08-02 22","k":"v","v":13},
{"t":"08-02 23","k":"a","v":86},{"t":"08-02 23","k":"b","v":22},{"t":"08-02 23","k":"c","v":12},{"t":"08-02 23","k":"d","v":47},{"t":"08-02 23","k":"e","v":14},{"t":"08-02 23","k":"f","v":9},{"t":"08-02 23","k":"g","v":41},{"t":"08-02 23","k":"h","v":7},{"t":"08-02 23","k":"i","v":14},{"t":"08-02 23","k":"j","v":24},{"t":"08-02 23","k":"k","v":64},{"t":"08-02 23","k":"l","v":10},{"t":"08-02 23","k":"m","v":11},{"t":"08-02 23","k":"n","v":23},{"t":"08-02 23","k":"o","v":7},{"t":"08-02 23","k":"p","v":23},{"t":"08-02 23","k":"q","v":10},{"t":"08-02 23","k":"r","v":15},{"t":"08-02 23","k":"s","v":28},{"t":"08-02 23","k":"t","v":24},{"t":"08-02 23","k":"u","v":11},{"t":"08-02 23","k":"v","v":13},
{"t":"08-03 00","k":"a","v":86},{"t":"08-03 00","k":"b","v":22},{"t":"08-03 00","k":"c","v":12},{"t":"08-03 00","k":"d","v":46},{"t":"08-03 00","k":"e","v":14},{"t":"08-03 00","k":"f","v":9},{"t":"08-03 00","k":"g","v":40},{"t":"08-03 00","k":"h","v":7},{"t":"08-03 00","k":"i","v":14},{"t":"08-03 00","k":"j","v":22},{"t":"08-03 00","k":"k","v":64},{"t":"08-03 00","k":"l","v":10},{"t":"08-03 00","k":"m","v":11},{"t":"08-03 00","k":"n","v":21},{"t":"08-03 00","k":"o","v":7},{"t":"08-03 00","k":"p","v":23},{"t":"08-03 00","k":"q","v":10},{"t":"08-03 00","k":"r","v":15},{"t":"08-03 00","k":"s","v":28},{"t":"08-03 00","k":"t","v":24},{"t":"08-03 00","k":"u","v":11},{"t":"08-03 00","k":"v","v":12},
{"t":"08-03 01","k":"a","v":86},{"t":"08-03 01","k":"b","v":22},{"t":"08-03 01","k":"c","v":14},{"t":"08-03 01","k":"d","v":46},{"t":"08-03 01","k":"e","v":14},{"t":"08-03 01","k":"f","v":9},{"t":"08-03 01","k":"g","v":39},{"t":"08-03 01","k":"h","v":7},{"t":"08-03 01","k":"i","v":14},{"t":"08-03 01","k":"j","v":21},{"t":"08-03 01","k":"k","v":62},{"t":"08-03 01","k":"l","v":10},{"t":"08-03 01","k":"m","v":11},{"t":"08-03 01","k":"n","v":18},{"t":"08-03 01","k":"o","v":6},{"t":"08-03 01","k":"p","v":23},{"t":"08-03 01","k":"q","v":10},{"t":"08-03 01","k":"r","v":14},{"t":"08-03 01","k":"s","v":28},{"t":"08-03 01","k":"t","v":24},{"t":"08-03 01","k":"u","v":11},{"t":"08-03 01","k":"v","v":11},
{"t":"08-03 02","k":"a","v":86},{"t":"08-03 02","k":"b","v":22},{"t":"08-03 02","k":"c","v":20},{"t":"08-03 02","k":"d","v":45},{"t":"08-03 02","k":"e","v":14},{"t":"08-03 02","k":"f","v":9},{"t":"08-03 02","k":"g","v":37},{"t":"08-03 02","k":"h","v":7},{"t":"08-03 02","k":"i","v":14},{"t":"08-03 02","k":"j","v":19},{"t":"08-03 02","k":"k","v":61},{"t":"08-03 02","k":"l","v":10},{"t":"08-03 02","k":"m","v":11},{"t":"08-03 02","k":"n","v":14},{"t":"08-03 02","k":"o","v":5},{"t":"08-03 02","k":"p","v":23},{"t":"08-03 02","k":"q","v":10},{"t":"08-03 02","k":"r","v":13},{"t":"08-03 02","k":"s","v":28},{"t":"08-03 02","k":"t","v":24},{"t":"08-03 02","k":"u","v":10},{"t":"08-03 02","k":"v","v":11},
{"t":"08-03 03","k":"a","v":86},{"t":"08-03 03","k":"b","v":22},{"t":"08-03 03","k":"c","v":27},{"t":"08-03 03","k":"d","v":45},{"t":"08-03 03","k":"e","v":14},{"t":"08-03 03","k":"f","v":9},{"t":"08-03 03","k":"g","v":37},{"t":"08-03 03","k":"h","v":7},{"t":"08-03 03","k":"i","v":14},{"t":"08-03 03","k":"j","v":18},{"t":"08-03 03","k":"k","v":61},{"t":"08-03 03","k":"l","v":10},{"t":"08-03 03","k":"m","v":11},{"t":"08-03 03","k":"n","v":17},{"t":"08-03 03","k":"o","v":6},{"t":"08-03 03","k":"p","v":23},{"t":"08-03 03","k":"q","v":10},{"t":"08-03 03","k":"r","v":14},{"t":"08-03 03","k":"s","v":28},{"t":"08-03 03","k":"t","v":24},{"t":"08-03 03","k":"u","v":11},{"t":"08-03 03","k":"v","v":11},
{"t":"08-03 04","k":"a","v":86},{"t":"08-03 04","k":"b","v":22},{"t":"08-03 04","k":"c","v":39},{"t":"08-03 04","k":"d","v":44},{"t":"08-03 04","k":"e","v":14},{"t":"08-03 04","k":"f","v":9},{"t":"08-03 04","k":"g","v":36},{"t":"08-03 04","k":"h","v":7},{"t":"08-03 04","k":"i","v":14},{"t":"08-03 04","k":"j","v":17},{"t":"08-03 04","k":"k","v":62},{"t":"08-03 04","k":"l","v":10},{"t":"08-03 04","k":"m","v":11},{"t":"08-03 04","k":"n","v":26},{"t":"08-03 04","k":"o","v":8},{"t":"08-03 04","k":"p","v":23},{"t":"08-03 04","k":"q","v":10},{"t":"08-03 04","k":"r","v":15},{"t":"08-03 04","k":"s","v":28},{"t":"08-03 04","k":"t","v":24},{"t":"08-03 04","k":"u","v":12},{"t":"08-03 04","k":"v","v":13},
{"t":"08-03 05","k":"a","v":90},{"t":"08-03 05","k":"b","v":22},{"t":"08-03 05","k":"c","v":63},{"t":"08-03 05","k":"d","v":49},{"t":"08-03 05","k":"e","v":14},{"t":"08-03 05","k":"f","v":9},{"t":"08-03 05","k":"g","v":46},{"t":"08-03 05","k":"h","v":7},{"t":"08-03 05","k":"i","v":14},{"t":"08-03 05","k":"j","v":30},{"t":"08-03 05","k":"k","v":67},{"t":"08-03 05","k":"l","v":10},{"t":"08-03 05","k":"m","v":11},{"t":"08-03 05","k":"n","v":31},{"t":"08-03 05","k":"o","v":9},{"t":"08-03 05","k":"p","v":23},{"t":"08-03 05","k":"q","v":10},{"t":"08-03 05","k":"r","v":16},{"t":"08-03 05","k":"s","v":28},{"t":"08-03 05","k":"t","v":24},{"t":"08-03 05","k":"u","v":13},{"t":"08-03 05","k":"v","v":14},
{"t":"08-03 06","k":"a","v":90},{"t":"08-03 06","k":"b","v":22},{"t":"08-03 06","k":"c","v":93},{"t":"08-03 06","k":"d","v":57},{"t":"08-03 06","k":"e","v":14},{"t":"08-03 06","k":"f","v":9},{"t":"08-03 06","k":"g","v":62},{"t":"08-03 06","k":"h","v":7},{"t":"08-03 06","k":"i","v":14},{"t":"08-03 06","k":"j","v":49},{"t":"08-03 06","k":"k","v":73},{"t":"08-03 06","k":"l","v":10},{"t":"08-03 06","k":"m","v":11},{"t":"08-03 06","k":"n","v":31},{"t":"08-03 06","k":"o","v":9},{"t":"08-03 06","k":"p","v":23},{"t":"08-03 06","k":"q","v":10},{"t":"08-03 06","k":"r","v":16},{"t":"08-03 06","k":"s","v":28},{"t":"08-03 06","k":"t","v":24},{"t":"08-03 06","k":"u","v":13},{"t":"08-03 06","k":"v","v":15},
{"t":"08-03 07","k":"a","v":90},{"t":"08-03 07","k":"b","v":22},{"t":"08-03 07","k":"c","v":110},{"t":"08-03 07","k":"d","v":65},{"t":"08-03 07","k":"e","v":14},{"t":"08-03 07","k":"f","v":9},{"t":"08-03 07","k":"g","v":79},{"t":"08-03 07","k":"h","v":7},{"t":"08-03 07","k":"i","v":14},{"t":"08-03 07","k":"j","v":69},{"t":"08-03 07","k":"k","v":81},{"t":"08-03 07","k":"l","v":10},{"t":"08-03 07","k":"m","v":11},{"t":"08-03 07","k":"n","v":27},{"t":"08-03 07","k":"o","v":8},{"t":"08-03 07","k":"p","v":23},{"t":"08-03 07","k":"q","v":10},{"t":"08-03 07","k":"r","v":16},{"t":"08-03 07","k":"s","v":28},{"t":"08-03 07","k":"t","v":24},{"t":"08-03 07","k":"u","v":12},{"t":"08-03 07","k":"v","v":14},
{"t":"08-03 08","k":"a","v":90},{"t":"08-03 08","k":"b","v":24},{"t":"08-03 08","k":"c","v":169},{"t":"08-03 08","k":"d","v":61},{"t":"08-03 08","k":"e","v":14},{"t":"08-03 08","k":"f","v":9},{"t":"08-03 08","k":"g","v":71},{"t":"08-03 08","k":"h","v":7},{"t":"08-03 08","k":"i","v":14},{"t":"08-03 08","k":"j","v":59},{"t":"08-03 08","k":"k","v":78},{"t":"08-03 08","k":"l","v":10},{"t":"08-03 08","k":"m","v":11},{"t":"08-03 08","k":"n","v":57},{"t":"08-03 08","k":"o","v":15},{"t":"08-03 08","k":"p","v":23},{"t":"08-03 08","k":"q","v":10},{"t":"08-03 08","k":"r","v":21},{"t":"08-03 08","k":"s","v":28},{"t":"08-03 08","k":"t","v":24},{"t":"08-03 08","k":"u","v":16},{"t":"08-03 08","k":"v","v":22},
{"t":"08-03 09","k":"a","v":95},{"t":"08-03 09","k":"b","v":26},{"t":"08-03 09","k":"c","v":121},{"t":"08-03 09","k":"d","v":62},{"t":"08-03 09","k":"e","v":14},{"t":"08-03 09","k":"f","v":9},{"t":"08-03 09","k":"g","v":73},{"t":"08-03 09","k":"h","v":7},{"t":"08-03 09","k":"i","v":14},{"t":"08-03 09","k":"j","v":61},{"t":"08-03 09","k":"k","v":78},{"t":"08-03 09","k":"l","v":10},{"t":"08-03 09","k":"m","v":11},{"t":"08-03 09","k":"n","v":66},{"t":"08-03 09","k":"o","v":17},{"t":"08-03 09","k":"p","v":23},{"t":"08-03 09","k":"q","v":10},{"t":"08-03 09","k":"r","v":23},{"t":"08-03 09","k":"s","v":28},{"t":"08-03 09","k":"t","v":24},{"t":"08-03 09","k":"u","v":18},{"t":"08-03 09","k":"v","v":24},
{"t":"08-03 10","k":"a","v":88},{"t":"08-03 10","k":"b","v":24},{"t":"08-03 10","k":"c","v":98},{"t":"08-03 10","k":"d","v":65},{"t":"08-03 10","k":"e","v":14},{"t":"08-03 10","k":"f","v":9},{"t":"08-03 10","k":"g","v":80},{"t":"08-03 10","k":"h","v":7},{"t":"08-03 10","k":"i","v":14},{"t":"08-03 10","k":"j","v":70},{"t":"08-03 10","k":"k","v":83},{"t":"08-03 10","k":"l","v":10},{"t":"08-03 10","k":"m","v":11},{"t":"08-03 10","k":"n","v":61},{"t":"08-03 10","k":"o","v":16},{"t":"08-03 10","k":"p","v":23},{"t":"08-03 10","k":"q","v":10},{"t":"08-03 10","k":"r","v":22},{"t":"08-03 10","k":"s","v":28},{"t":"08-03 10","k":"t","v":24},{"t":"08-03 10","k":"u","v":17},{"t":"08-03 10","k":"v","v":23},
{"t":"08-03 11","k":"a","v":90},{"t":"08-03 11","k":"b","v":24},{"t":"08-03 11","k":"c","v":87},{"t":"08-03 11","k":"d","v":64},{"t":"08-03 11","k":"e","v":14},{"t":"08-03 11","k":"f","v":9},{"t":"08-03 11","k":"g","v":77},{"t":"08-03 11","k":"h","v":7},{"t":"08-03 11","k":"i","v":14},{"t":"08-03 11","k":"j","v":66},{"t":"08-03 11","k":"k","v":81},{"t":"08-03 11","k":"l","v":10},{"t":"08-03 11","k":"m","v":11},{"t":"08-03 11","k":"n","v":54},{"t":"08-03 11","k":"o","v":14},{"t":"08-03 11","k":"p","v":23},{"t":"08-03 11","k":"q","v":10},{"t":"08-03 11","k":"r","v":21},{"t":"08-03 11","k":"s","v":28},{"t":"08-03 11","k":"t","v":24},{"t":"08-03 11","k":"u","v":16},{"t":"08-03 11","k":"v","v":21},
{"t":"08-03 12","k":"a","v":90},{"t":"08-03 12","k":"b","v":24},{"t":"08-03 12","k":"c","v":101},{"t":"08-03 12","k":"d","v":69},{"t":"08-03 12","k":"e","v":14},{"t":"08-03 12","k":"f","v":9},{"t":"08-03 12","k":"g","v":88},{"t":"08-03 12","k":"h","v":7},{"t":"08-03 12","k":"i","v":14},{"t":"08-03 12","k":"j","v":80},{"t":"08-03 12","k":"k","v":86},{"t":"08-03 12","k":"l","v":10},{"t":"08-03 12","k":"m","v":11},{"t":"08-03 12","k":"n","v":66},{"t":"08-03 12","k":"o","v":17},{"t":"08-03 12","k":"p","v":23},{"t":"08-03 12","k":"q","v":10},{"t":"08-03 12","k":"r","v":23},{"t":"08-03 12","k":"s","v":28},{"t":"08-03 12","k":"t","v":24},{"t":"08-03 12","k":"u","v":18},{"t":"08-03 12","k":"v","v":23},
{"t":"08-03 13","k":"a","v":90},{"t":"08-03 13","k":"b","v":24},{"t":"08-03 13","k":"c","v":121},{"t":"08-03 13","k":"d","v":66},{"t":"08-03 13","k":"e","v":14},{"t":"08-03 13","k":"f","v":9},{"t":"08-03 13","k":"g","v":83},{"t":"08-03 13","k":"h","v":7},{"t":"08-03 13","k":"i","v":14},{"t":"08-03 13","k":"j","v":73},{"t":"08-03 13","k":"k","v":84},{"t":"08-03 13","k":"l","v":10},{"t":"08-03 13","k":"m","v":11},{"t":"08-03 13","k":"n","v":45},{"t":"08-03 13","k":"o","v":12},{"t":"08-03 13","k":"p","v":23},{"t":"08-03 13","k":"q","v":10},{"t":"08-03 13","k":"r","v":19},{"t":"08-03 13","k":"s","v":28},{"t":"08-03 13","k":"t","v":24},{"t":"08-03 13","k":"u","v":15},{"t":"08-03 13","k":"v","v":18},
{"t":"08-03 14","k":"a","v":95},{"t":"08-03 14","k":"b","v":24},{"t":"08-03 14","k":"c","v":134},{"t":"08-03 14","k":"d","v":64},{"t":"08-03 14","k":"e","v":14},{"t":"08-03 14","k":"f","v":9},{"t":"08-03 14","k":"g","v":78},{"t":"08-03 14","k":"h","v":7},{"t":"08-03 14","k":"i","v":14},{"t":"08-03 14","k":"j","v":68},{"t":"08-03 14","k":"k","v":81},{"t":"08-03 14","k":"l","v":10},{"t":"08-03 14","k":"m","v":11},{"t":"08-03 14","k":"n","v":51},{"t":"08-03 14","k":"o","v":13},{"t":"08-03 14","k":"p","v":23},{"t":"08-03 14","k":"q","v":10},{"t":"08-03 14","k":"r","v":20},{"t":"08-03 14","k":"s","v":28},{"t":"08-03 14","k":"t","v":24},{"t":"08-03 14","k":"u","v":16},{"t":"08-03 14","k":"v","v":20},
{"t":"08-03 15","k":"a","v":90},{"t":"08-03 15","k":"b","v":24},{"t":"08-03 15","k":"c","v":60},{"t":"08-03 15","k":"d","v":65},{"t":"08-03 15","k":"e","v":14},{"t":"08-03 15","k":"f","v":9},{"t":"08-03 15","k":"g","v":80},{"t":"08-03 15","k":"h","v":7},{"t":"08-03 15","k":"i","v":14},{"t":"08-03 15","k":"j","v":69},{"t":"08-03 15","k":"k","v":82},{"t":"08-03 15","k":"l","v":10},{"t":"08-03 15","k":"m","v":11},{"t":"08-03 15","k":"n","v":54},{"t":"08-03 15","k":"o","v":14},{"t":"08-03 15","k":"p","v":23},{"t":"08-03 15","k":"q","v":10},{"t":"08-03 15","k":"r","v":21},{"t":"08-03 15","k":"s","v":28},{"t":"08-03 15","k":"t","v":24},{"t":"08-03 15","k":"u","v":16},{"t":"08-03 15","k":"v","v":21},
{"t":"08-03 16","k":"a","v":90},{"t":"08-03 16","k":"b","v":24},{"t":"08-03 16","k":"c","v":33},{"t":"08-03 16","k":"d","v":60},{"t":"08-03 16","k":"e","v":14},{"t":"08-03 16","k":"f","v":9},{"t":"08-03 16","k":"g","v":69},{"t":"08-03 16","k":"h","v":7},{"t":"08-03 16","k":"i","v":14},{"t":"08-03 16","k":"j","v":56},{"t":"08-03 16","k":"k","v":76},{"t":"08-03 16","k":"l","v":10},{"t":"08-03 16","k":"m","v":11},{"t":"08-03 16","k":"n","v":66},{"t":"08-03 16","k":"o","v":17},{"t":"08-03 16","k":"p","v":23},{"t":"08-03 16","k":"q","v":10},{"t":"08-03 16","k":"r","v":23},{"t":"08-03 16","k":"s","v":28},{"t":"08-03 16","k":"t","v":24},{"t":"08-03 16","k":"u","v":18},{"t":"08-03 16","k":"v","v":23},
{"t":"08-03 17","k":"a","v":90},{"t":"08-03 17","k":"b","v":24},{"t":"08-03 17","k":"c","v":74},{"t":"08-03 17","k":"d","v":55},{"t":"08-03 17","k":"e","v":14},{"t":"08-03 17","k":"f","v":9},{"t":"08-03 17","k":"g","v":60},{"t":"08-03 17","k":"h","v":7},{"t":"08-03 17","k":"i","v":14},{"t":"08-03 17","k":"j","v":46},{"t":"08-03 17","k":"k","v":72},{"t":"08-03 17","k":"l","v":10},{"t":"08-03 17","k":"m","v":11},{"t":"08-03 17","k":"n","v":72},{"t":"08-03 17","k":"o","v":18},{"t":"08-03 17","k":"p","v":23},{"t":"08-03 17","k":"q","v":10},{"t":"08-03 17","k":"r","v":24},{"t":"08-03 17","k":"s","v":28},{"t":"08-03 17","k":"t","v":24},{"t":"08-03 17","k":"u","v":19},{"t":"08-03 17","k":"v","v":25},
{"t":"08-03 18","k":"a","v":90},{"t":"08-03 18","k":"b","v":24},{"t":"08-03 18","k":"c","v":38},{"t":"08-03 18","k":"d","v":55},{"t":"08-03 18","k":"e","v":14},{"t":"08-03 18","k":"f","v":9},{"t":"08-03 18","k":"g","v":58},{"t":"08-03 18","k":"h","v":7},{"t":"08-03 18","k":"i","v":14},{"t":"08-03 18","k":"j","v":44},{"t":"08-03 18","k":"k","v":71},{"t":"08-03 18","k":"l","v":10},{"t":"08-03 18","k":"m","v":11},{"t":"08-03 18","k":"n","v":62},{"t":"08-03 18","k":"o","v":16},{"t":"08-03 18","k":"p","v":23},{"t":"08-03 18","k":"q","v":10},{"t":"08-03 18","k":"r","v":22},{"t":"08-03 18","k":"s","v":28},{"t":"08-03 18","k":"t","v":24},{"t":"08-03 18","k":"u","v":17},{"t":"08-03 18","k":"v","v":23},
{"t":"08-03 19","k":"a","v":87},{"t":"08-03 19","k":"b","v":22},{"t":"08-03 19","k":"c","v":69},{"t":"08-03 19","k":"d","v":50},{"t":"08-03 19","k":"e","v":14},{"t":"08-03 19","k":"f","v":9},{"t":"08-03 19","k":"g","v":47},{"t":"08-03 19","k":"h","v":7},{"t":"08-03 19","k":"i","v":14},{"t":"08-03 19","k":"j","v":31},{"t":"08-03 19","k":"k","v":66},{"t":"08-03 19","k":"l","v":10},{"t":"08-03 19","k":"m","v":11},{"t":"08-03 19","k":"n","v":39},{"t":"08-03 19","k":"o","v":11},{"t":"08-03 19","k":"p","v":23},{"t":"08-03 19","k":"q","v":10},{"t":"08-03 19","k":"r","v":18},{"t":"08-03 19","k":"s","v":28},{"t":"08-03 19","k":"t","v":24},{"t":"08-03 19","k":"u","v":14},{"t":"08-03 19","k":"v","v":17},
{"t":"08-03 20","k":"a","v":87},{"t":"08-03 20","k":"b","v":22},{"t":"08-03 20","k":"c","v":56},{"t":"08-03 20","k":"d","v":50},{"t":"08-03 20","k":"e","v":14},{"t":"08-03 20","k":"f","v":9},{"t":"08-03 20","k":"g","v":48},{"t":"08-03 20","k":"h","v":7},{"t":"08-03 20","k":"i","v":14},{"t":"08-03 20","k":"j","v":31},{"t":"08-03 20","k":"k","v":67},{"t":"08-03 20","k":"l","v":10},{"t":"08-03 20","k":"m","v":11},{"t":"08-03 20","k":"n","v":50},{"t":"08-03 20","k":"o","v":13},{"t":"08-03 20","k":"p","v":23},{"t":"08-03 20","k":"q","v":10},{"t":"08-03 20","k":"r","v":20},{"t":"08-03 20","k":"s","v":28},{"t":"08-03 20","k":"t","v":24},{"t":"08-03 20","k":"u","v":15},{"t":"08-03 20","k":"v","v":21},
{"t":"08-03 21","k":"a","v":87},{"t":"08-03 21","k":"b","v":22},{"t":"08-03 21","k":"c","v":49},{"t":"08-03 21","k":"d","v":49},{"t":"08-03 21","k":"e","v":14},{"t":"08-03 21","k":"f","v":9},{"t":"08-03 21","k":"g","v":46},{"t":"08-03 21","k":"h","v":7},{"t":"08-03 21","k":"i","v":14},{"t":"08-03 21","k":"j","v":29},{"t":"08-03 21","k":"k","v":66},{"t":"08-03 21","k":"l","v":10},{"t":"08-03 21","k":"m","v":11},{"t":"08-03 21","k":"n","v":61},{"t":"08-03 21","k":"o","v":16},{"t":"08-03 21","k":"p","v":23},{"t":"08-03 21","k":"q","v":10},{"t":"08-03 21","k":"r","v":22},{"t":"08-03 21","k":"s","v":28},{"t":"08-03 21","k":"t","v":24},{"t":"08-03 21","k":"u","v":17},{"t":"08-03 21","k":"v","v":23},
{"t":"08-03 22","k":"a","v":85},{"t":"08-03 22","k":"b","v":22},{"t":"08-03 22","k":"c","v":10},{"t":"08-03 22","k":"d","v":49},{"t":"08-03 22","k":"e","v":14},{"t":"08-03 22","k":"f","v":9},{"t":"08-03 22","k":"g","v":45},{"t":"08-03 22","k":"h","v":7},{"t":"08-03 22","k":"i","v":14},{"t":"08-03 22","k":"j","v":29},{"t":"08-03 22","k":"k","v":66},{"t":"08-03 22","k":"l","v":10},{"t":"08-03 22","k":"m","v":11},{"t":"08-03 22","k":"n","v":42},{"t":"08-03 22","k":"o","v":11},{"t":"08-03 22","k":"p","v":23},{"t":"08-03 22","k":"q","v":10},{"t":"08-03 22","k":"r","v":18},{"t":"08-03 22","k":"s","v":28},{"t":"08-03 22","k":"t","v":24},{"t":"08-03 22","k":"u","v":14},{"t":"08-03 22","k":"v","v":19},
{"t":"08-03 23","k":"a","v":85},{"t":"08-03 23","k":"b","v":22},{"t":"08-03 23","k":"c","v":11},{"t":"08-03 23","k":"d","v":48},{"t":"08-03 23","k":"e","v":14},{"t":"08-03 23","k":"f","v":9},{"t":"08-03 23","k":"g","v":44},{"t":"08-03 23","k":"h","v":7},{"t":"08-03 23","k":"i","v":14},{"t":"08-03 23","k":"j","v":27},{"t":"08-03 23","k":"k","v":65},{"t":"08-03 23","k":"l","v":10},{"t":"08-03 23","k":"m","v":11},{"t":"08-03 23","k":"n","v":34},{"t":"08-03 23","k":"o","v":10},{"t":"08-03 23","k":"p","v":23},{"t":"08-03 23","k":"q","v":10},{"t":"08-03 23","k":"r","v":17},{"t":"08-03 23","k":"s","v":28},{"t":"08-03 23","k":"t","v":24},{"t":"08-03 23","k":"u","v":13},{"t":"08-03 23","k":"v","v":16},
{"t":"08-04 00","k":"a","v":85},{"t":"08-04 00","k":"b","v":22},{"t":"08-04 00","k":"c","v":13},{"t":"08-04 00","k":"d","v":47},{"t":"08-04 00","k":"e","v":14},{"t":"08-04 00","k":"f","v":9},{"t":"08-04 00","k":"g","v":42},{"t":"08-04 00","k":"h","v":7},{"t":"08-04 00","k":"i","v":14},{"t":"08-04 00","k":"j","v":25},{"t":"08-04 00","k":"k","v":65},{"t":"08-04 00","k":"l","v":10},{"t":"08-04 00","k":"m","v":11},{"t":"08-04 00","k":"n","v":27},{"t":"08-04 00","k":"o","v":8},{"t":"08-04 00","k":"p","v":23},{"t":"08-04 00","k":"q","v":10},{"t":"08-04 00","k":"r","v":16},{"t":"08-04 00","k":"s","v":28},{"t":"08-04 00","k":"t","v":24},{"t":"08-04 00","k":"u","v":12},{"t":"08-04 00","k":"v","v":13}
],
"avg":[
{"t":"08-01 05","g":1,"y1":555},{"t":"08-01 06","g":1,"y1":623},{"t":"08-01 07","g":1,"y1":640},{"t":"08-01 08","g":1,"y1":652},{"t":"08-01 09","g":1,"y1":675},{"t":"08-01 10","g":1,"y1":695},{"t":"08-01 11","g":1,"y1":718},{"t":"08-01 12","g":1,"y1":730},{"t":"08-01 13","g":1,"y1":720},{"t":"08-01 14","g":1,"y1":705},{"t":"08-01 15","g":1,"y1":685},{"t":"08-01 16","g":1,"y1":660},{"t":"08-01 17","g":1,"y1":610},{"t":"08-01 18","g":1,"y1":570},{"t":"08-01 19","g":1,"y1":530},{"t":"08-01 20","g":1,"y1":500},
{"t":"08-02 06","g":2,"y1":545},{"t":"08-02 07","g":2,"y1":575},{"t":"08-02 08","g":2,"y1":620},{"t":"08-02 09","g":2,"y1":660},{"t":"08-02 10","g":2,"y1":690},{"t":"08-02 11","g":2,"y1":705},{"t":"08-02 12","g":2,"y1":715},{"t":"08-02 13","g":2,"y1":728},{"t":"08-02 14","g":2,"y1":742},{"t":"08-02 15","g":2,"y1":735},{"t":"08-02 16","g":2,"y1":700},{"t":"08-02 17","g":2,"y1":668},{"t":"08-02 18","g":2,"y1":635},{"t":"08-02 19","g":2,"y1":605},{"t":"08-02 20","g":2,"y1":578},{"t":"08-02 21","g":2,"y1":560},{"t":"08-02 22","g":2,"y1":532},
{"t":"08-03 03","g":3,"y1":505},{"t":"08-03 04","g":3,"y1":540},{"t":"08-03 05","g":3,"y1":615},{"t":"08-03 06","g":3,"y1":685},{"t":"08-03 07","g":3,"y1":728},{"t":"08-03 08","g":3,"y1":765},{"t":"08-03 09","g":3,"y1":785},{"t":"08-03 10","g":3,"y1":798},{"t":"08-03 11","g":3,"y1":806},{"t":"08-03 12","g":3,"y1":818},{"t":"08-03 13","g":3,"y1":800},{"t":"08-03 14","g":3,"y1":775},{"t":"08-03 15","g":3,"y1":746},{"t":"08-03 16","g":3,"y1":720},{"t":"08-03 17","g":3,"y1":697},{"t":"08-03 18","g":3,"y1":656},{"t":"08-03 19","g":3,"y1":635},{"t":"08-03 20","g":3,"y1":620},{"t":"08-03 21","g":3,"y1":598},{"t":"08-03 22","g":3,"y1":570},{"t":"08-03 23","g":3,"y1":547},{"t":"08-04 00","g":3,"y1":530}
],
"box":[
{"t":"08-01 06:04","e":"08-01 19:39","y1":906,"y0":849},
{"t":"08-01 06:04","e":"08-01 19:39","y1":78,"y0":18},
{"t":"08-01 06:04","e":"08-01 06:26","y1":849,"y0":78},
{"t":"08-01 19:17","e":"08-01 19:39","y1":849,"y0":78},
{"t":"08-02 06:05","e":"08-02 19:37","y1":888,"y0":833},
{"t":"08-02 06:05","e":"08-02 19:37","y1":91,"y0":40},
{"t":"08-02 06:05","e":"08-02 06:27","y1":833,"y0":91},
{"t":"08-02 19:15","e":"08-02 19:37","y1":833,"y0":91},
{"t":"08-03 04:49","e":"08-03 18:20","y1":901,"y0":847},
{"t":"08-03 04:49","e":"08-03 18:20","y1":91,"y0":45},
{"t":"08-03 04:49","e":"08-03 05:11","y1":847,"y0":91},
{"t":"08-03 17:58","e":"08-03 18:20","y1":847,"y0":91}
],
"lab":[
{"t":"08-01 14:18","y1":1000,"txt":"07:00 -18:00 uur"},
{"t":"08-02 13:47","y1":1000,"txt":"07:00 -18:00 uur"},
{"t":"08-03 11:37","y1":1000,"txt":"07:00 -18:00 uur"}
]
},
"encoding":{
"x":{"field":"t","type":"temporal","title":"ts","scale":{"type":"utc","nice":false,"domain":[{"year":1900,"month":"Jul","date":31,"hours":23,"minutes":20,"utc":true},{"year":1900,"month":"Aug","date":4,"hours":0,"minutes":18,"utc":true}]},
"axis":{"title":"ts","format":"%b %d, %I%p","values":[{"year":1900,"month":"Aug","date":1,"hours":0,"utc":true},{"year":1900,"month":"Aug","date":1,"hours":12,"utc":true},{"year":1900,"month":"Aug","date":2,"hours":0,"utc":true},{"year":1900,"month":"Aug","date":2,"hours":12,"utc":true},{"year":1900,"month":"Aug","date":3,"hours":0,"utc":true},{"year":1900,"month":"Aug","date":3,"hours":12,"utc":true}],"grid":false,"domain":false,"ticks":false,"labelColor":"#707070","labelFontSize":11,"labelPadding":7,"labelFont":"Open Sans","titleColor":"#333333","titleFontSize":10,"titleFontWeight":"normal","titlePadding":4,"titleFont":"Open Sans"}},
"y":{"field":"y1","type":"quantitative","title":"|","scale":{"domain":[0,900],"nice":false,"zero":true},
"axis":{"title":"|","titleAngle":0,"titleFontSize":8,"titleColor":"#444444","titleX":-42,"titleY":178,"titleAlign":"center","titleBaseline":"middle","values":[0,200,400,600,800],"grid":true,"gridDash":[1,4],"gridColor":"#c4c4c4","gridWidth":1,"domain":false,"ticks":false,"labelColor":"#707070","labelFontSize":11,"labelPadding":10,"labelFont":"Open Sans"}}
},
"layer":[
{
"data":{"name":"d","format":{"parse":{"t":"utc:'%m-%d %H'"}}},
"transform":[{"stack":"v","groupby":["t"],"sort":[{"field":"k","order":"ascending"}],"as":["y0","y1"]}],
"layer":[
{"mark":{"type":"area","interpolate":"linear","opacity":1},
"encoding":{
"y2":{"field":"y0"},
"fill":{"field":"k","type":"nominal","legend":null,"scale":{"domain":["a","b","c","d","e","f","g","h","i","j","k","l","m","n","o","p","q","r","s","t","u","v"],"range":["#9fa5d8","#9ccbf2","#f5c4ab","#cbb5ec","#f4d2b8","#f4b6bf","#a8c8c6","#f6b8be","#b5efd7","#c3efcf","#b9c3ee","#f4bb98","#c4c9ef","#c2b3dc","#eeaa9c","#a5d7cf","#a3d4b8","#abd3d6","#efb9a2","#ebb1ba","#efbca3","#c9cdea"]}}
}},
{"mark":{"type":"line","interpolate":"linear","strokeWidth":3,"strokeJoin":"round"},
"encoding":{
"stroke":{"field":"k","type":"nominal","legend":null,"scale":{"domain":["a","b","c","d","e","f","g","h","i","j","k","l","m","n","o","p","q","r","s","t","u","v"],"range":["#1e2a7c","#3d9ae8","#b01673","#9b6fd6","#d8a22a","#e8505c","#c9a031","#f5868a","#1ec6b1","#2d9bd9","#e4168b","#f07b2b","#5a6ed2","#b9852e","#f35a3a","#1b6aa6","#2f9e4f","#13235e","#5e1347","#2f9f44","#8c7a7a","#5b8dbd"]}}
}}
]
},
{
"data":{"name":"avg","format":{"parse":{"t":"utc:'%m-%d %H'"}}},
"mark":{"type":"line","stroke":"#263b26","strokeWidth":1.5},
"encoding":{"detail":{"field":"g","type":"nominal"}}
},
{
"data":{"name":"box","format":{"parse":{"t":"utc:'%m-%d %H:%M'","e":"utc:'%m-%d %H:%M'"}}},
"mark":{"type":"rect","fill":"#ffff00","blend":"multiply"},
"encoding":{"x2":{"field":"e"},"y2":{"field":"y0"}}
},
{
"data":{"name":"lab","format":{"parse":{"t":"utc:'%m-%d %H:%M'"}}},
"mark":{"type":"text","font":"Open Sans","fontSize":21,"color":"#111111","align":"center","baseline":"middle"},
"encoding":{"text":{"field":"txt"}}
}
]
}
